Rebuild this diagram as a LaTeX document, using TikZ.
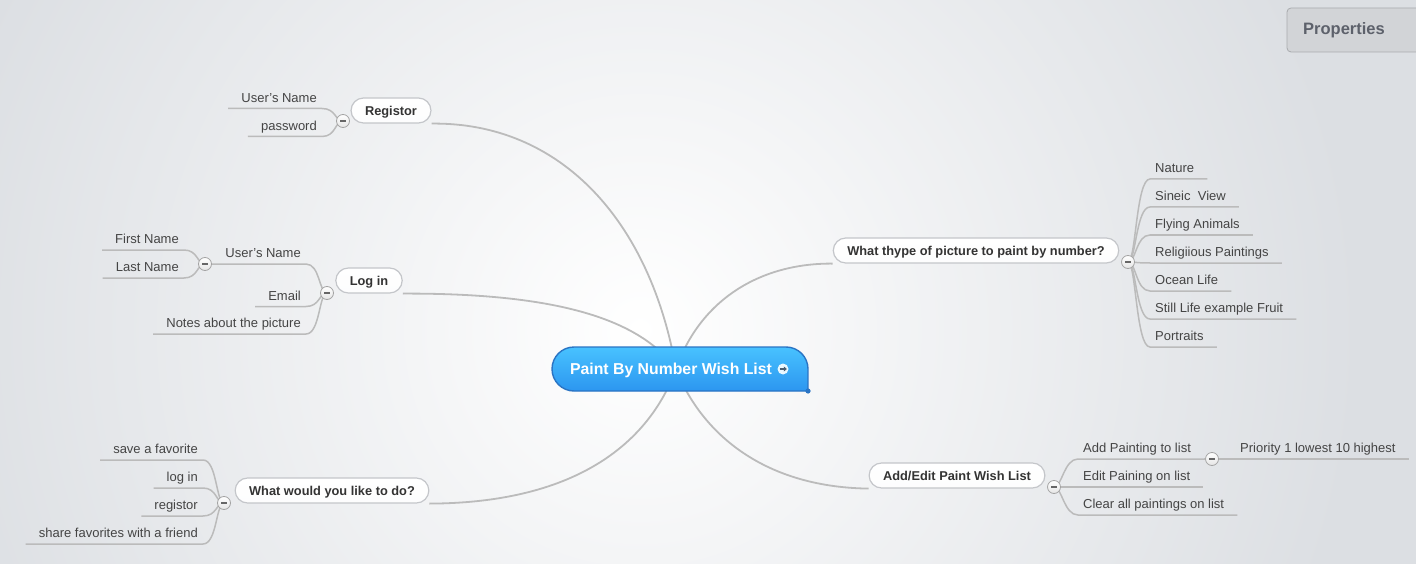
\documentclass[tikz,border=0pt]{standalone}
\usepackage{fontspec}
\setmainfont{Liberation Sans}
\usetikzlibrary{arrows.meta,backgrounds}

\definecolor{bggray}{HTML}{DCDFE3}
\definecolor{branchgray}{HTML}{BBBBBB}
\definecolor{topicline}{HTML}{C4C6CA}
\definecolor{topictext}{HTML}{333333}
\definecolor{leaftext}{HTML}{444444}
\definecolor{foldline}{HTML}{A4A4A4}
\definecolor{foldmark}{HTML}{666666}
\definecolor{rootTop}{HTML}{48C2FF}
\definecolor{rootBot}{HTML}{2C96F0}
\definecolor{rootline}{HTML}{2A74C4}
\definecolor{iconarrow}{HTML}{4A5D70}
\definecolor{propfill}{HTML}{D2D4D7}
\definecolor{propline}{HTML}{A9ABAE}
\definecolor{proptext}{HTML}{5D616B}

\tikzset{
  topic/.style={draw=topicline, line width=1.2pt, top color=white, bottom color=white!94!bggray,
    rounded corners=12.5pt, minimum height=25pt, inner xsep=14pt, text height=9.2pt, text depth=0pt,
    font=\fontsize{12.8}{15}\selectfont\bfseries, text=topictext},
  leaf/.style={font=\fontsize{13}{15}\selectfont, text=leaftext, inner xsep=13pt, inner ysep=6pt,
    text height=9.5pt, text depth=0pt},
  leafL/.style={leaf, anchor=south east},
  leafR/.style={leaf, anchor=south west},
  fold/.style={circle, draw=foldline, line width=0.8pt, top color=white, bottom color=black!10,
    minimum size=13pt, inner sep=0pt,
    path picture={\draw[foldmark, line width=1.3pt]
      ([xshift=-2.8pt]path picture bounding box.center) -- ([xshift=2.8pt]path picture bounding box.center);}},
  branch/.style={draw=branchgray, line width=1.8pt},
  twig/.style={draw=branchgray, line width=1.5pt},
}

\begin{document}
\begin{tikzpicture}[x=1pt,y=-1pt]
\useasboundingbox (0,0) rectangle (1416,564);

% level one
\node[topic] (reg) at (391,110.5) {Registor};
\node[topic] (login) at (369,280.5) {Log in};
\node[topic] (todo) at (332,490.5) {What would you like to do?};
\node[topic] (kind) at (976,250.5) {What thype of picture to paint by number?};
\node[topic] (edit) at (957,475.5) {Add/Edit Paint Wish List};

% registor
\node[leafL] (regname) at (330,108.5) {User's Name};
\node[leafL] (regpass) at (330,136.5) {password};
\node[fold] (regfold) at (343,121) {};

% log in
\node[leafL] (logname) at (314,264) {User's Name};
\node[leafL] (email) at (314,306.5) {Email};
\node[leafL] (notes) at (314,334) {Notes about the picture};
\node[leafL] (first) at (192,250) {First Name};
\node[leafL] (last) at (192,278) {Last Name};
\node[fold] (loginfold) at (327,293) {};
\node[fold] (namefold) at (205,264) {};

% what would you like to do
\foreach \nm/\txt [count=\i from 0] in {save/save a favorite, dologin/log in, doreg/registor, share/share favorites with a friend}
  \node[leafL] (\nm) at (211,460+28*\i) {\txt};
\node[fold] (todofold) at (224,503) {};

% kind of picture
\foreach \nm/\txt [count=\i from 0] in {nature/Nature, scenic/{Sineic\ \ View}, birds/Flying Animals, holy/Religiious Paintings, ocean/Ocean Life, still/Still Life example Fruit, portrait/Portraits}
  \node[leafR] (\nm) at (1142,179+28*\i) {\txt};
\node[fold] (kindfold) at (1128,262) {};

% wish list
\node[leafR] (add) at (1070,459) {Add Painting to list};
\node[leafR] (change) at (1070,487) {Edit Paining on list};
\node[leafR] (clear) at (1070,515) {Clear all paintings on list};
\node[leafR] (prio) at (1227,459) {Priority 1 lowest 10 highest};
\node[fold] (editfold) at (1054,487) {};
\node[fold] (addfold) at (1212,459) {};

% root
\node[font=\fontsize{15.8}{18}\selectfont\bfseries, text=white, text height=11.4pt, text depth=0pt] (root) at (671,369) {Paint By Number Wish List};
\node[circle, fill=white!88!rootTop, minimum size=11pt, inner sep=0pt] (go) at (783,369) {};
\draw[-{Triangle[length=3pt,width=5pt]}, line width=1.5pt, iconarrow] ([xshift=-3.5pt]go.center) -- ([xshift=3.8pt]go.center);
\coordinate (hub) at (676,369);

% properties
\draw[propline, fill=propfill, line width=0.8pt, rounded corners=4pt] (1287,8) rectangle (1440,52);
\node[font=\fontsize{16.5}{19}\selectfont\bfseries, text=proptext] (props) at (1344,30) {Properties};

\begin{scope}[on background layer]
  \begin{scope}
    \clip (0,0) rectangle (1416,564);
    \fill[bggray] (0,0) rectangle (1416,564);
    \shade[inner color=white, outer color=bggray] (640,330) circle (720);
  \end{scope}
  \draw[branch] (reg.south east) .. controls (560,122) and (650,220) .. (hub);
  \draw[branch] (login.south east) .. controls (560,293) and (640,320) .. (hub);
  \draw[branch] (todo.south east) .. controls (580,503) and (650,440) .. (hub);
  \draw[branch] (kind.south west) .. controls (760,263) and (700,300) .. (hub);
  \draw[branch] (edit.south west) .. controls (760,487) and (700,430) .. (hub);
  \foreach \nm in {regname, regpass}
    \draw[twig] (regfold.center) .. controls +(-8,0) and +(14,0) .. ([xshift=-8pt]\nm.south east) -- (\nm.south west);
  \foreach \nm in {logname, email, notes}
    \draw[twig] (loginfold.center) .. controls +(-8,0) and +(14,0) .. ([xshift=-8pt]\nm.south east) -- (\nm.south west);
  \draw[twig] (logname.south west) -- (namefold.center);
  \foreach \nm in {first, last}
    \draw[twig] (namefold.center) .. controls +(-8,0) and +(14,0) .. ([xshift=-8pt]\nm.south east) -- (\nm.south west);
  \foreach \nm in {save, dologin, doreg, share}
    \draw[twig] (todofold.center) .. controls +(-8,0) and +(14,0) .. ([xshift=-8pt]\nm.south east) -- (\nm.south west);
  \foreach \nm in {nature, scenic, birds, holy, ocean, still, portrait}
    \draw[twig] (kindfold.center) .. controls +(8,0) and +(-14,0) .. ([xshift=8pt]\nm.south west) -- (\nm.south east);
  \foreach \nm in {add, change, clear}
    \draw[twig] (editfold.center) .. controls +(8,0) and +(-14,0) .. ([xshift=8pt]\nm.south west) -- (\nm.south east);
  \draw[twig] (add.south east) -- (addfold.center) -- (prio.south west) -- (prio.south east);
  \path[draw=rootline, line width=1.4pt, top color=rootTop, bottom color=rootBot]
    (700,391) [rounded corners=22pt] -- (552,391) -- (552,347) -- (808,347) [sharp corners] -- (808,391) -- cycle;
  \fill[rootline] (808,391) circle (2.6pt);
\end{scope}
\end{tikzpicture}
\end{document}
